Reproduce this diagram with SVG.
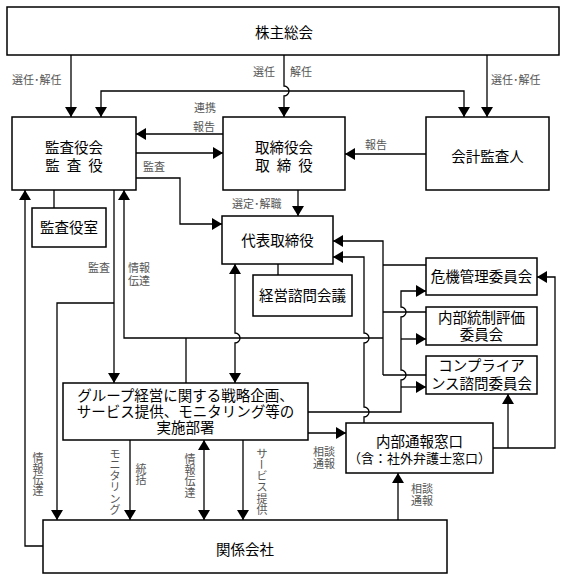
<svg xmlns="http://www.w3.org/2000/svg" width="567" height="579" viewBox="0 0 567 579">
<style>
  .bx{fill:#fff;stroke:#000;stroke-width:1.5}
  .t{font-family:"Noto Sans CJK JP","Noto Sans CJK SC",sans-serif;font-size:14.5px;fill:#000;text-anchor:middle}
  .lb{font-family:"Noto Sans CJK JP","Noto Sans CJK SC",sans-serif;font-size:11px;fill:#555}
  .vl{font-family:"Noto Sans CJK JP","Noto Sans CJK SC",sans-serif;font-size:11px;fill:#555;text-anchor:middle}
  .c path{fill:none;stroke:#000;stroke-width:1.3}
  .a{marker-end:url(#ah)}
  .b{marker-start:url(#ah);marker-end:url(#ah)}
</style>
<defs>
  <marker id="ah" viewBox="0 0 10 12" refX="10" refY="6" markerWidth="10" markerHeight="12" markerUnits="userSpaceOnUse" orient="auto-start-reverse">
    <path d="M0,0 L10,6 L0,12 z" fill="#000"/>
  </marker>
</defs>
<rect width="567" height="579" fill="#fff"/>

<g class="c" id="connectors">
  <path class="a" d="M71,55 V117"/>
  <path class="a" d="M284,55 V86 A5,5 0 0 1 284,96 V117"/>
  <path class="a" d="M487,55 V117"/>
  <path class="b" d="M101,117 V91 H464 V117"/>
  <path class="a" d="M223,134 H136"/>
  <path class="a" d="M136,153 H223"/>
  <path class="a" d="M426,154 H345"/>
  <path class="a" d="M136,178 H180 V224 H222"/>
  <path class="a" d="M298,190 V216"/>
  <path d="M54,190 V208"/>
  <path d="M278,264 V275"/>
  <path class="a" d="M43,546 H25 V190"/>
  <path class="a" d="M114,190 V383"/>
  <path class="a" d="M114,303 H57 V520"/>
  <path class="a" d="M383,375 V241 H333"/>
  <path class="a" d="M383,338 H124 V190"/>
  <path d="M383,265 H426"/>
  <path d="M383,312 H426"/>
  <path d="M383,375 H426"/>
  <path d="M186,383 V338"/>
  <path class="b" d="M235,264 V333 A5,5 0 0 1 235,343 V383"/>
  <path class="a" d="M364,423 V417 A5,5 0 0 0 364,407 V343 A5,5 0 0 0 364,333 V257 H333"/>
  <path class="a" d="M308,412 H401 V380 A5,5 0 0 0 401,370 V317 A5,5 0 0 0 401,307 V291 H426"/>
  <path class="a" d="M401,339 H426"/>
  <path class="a" d="M401,387 H426"/>
  <path class="a" d="M308,433 H346"/>
  <path class="a" d="M398,520 V473"/>
  <path class="a" d="M493,448 H555 V277 H537"/>
  <path class="a" d="M508,448 V394"/>
  <path class="a" d="M130,440 V520"/>
  <path class="b" d="M204,440 V520"/>
  <path class="a" d="M243,440 V520"/>
</g>

<g id="labels">
  <text class="lb" x="12" y="84">選任･解任</text>
  <text class="lb" x="253" y="76">選任</text>
  <text class="lb" x="290" y="76">解任</text>
  <text class="lb" x="491" y="84">選任･解任</text>
  <text class="lb" x="194" y="112">連携</text>
  <text class="lb" x="193" y="131">報告</text>
  <text class="lb" x="365" y="149">報告</text>
  <text class="lb" x="143" y="171">監査</text>
  <text class="lb" x="232" y="208">選定･解職</text>
  <text class="lb" x="88" y="272">監査</text>
  <text class="lb" x="128" y="272">情報</text>
  <text class="lb" x="128" y="285">伝達</text>
  <text class="lb" x="313" y="456">相談</text>
  <text class="lb" x="313" y="468">通報</text>
  <text class="lb" x="411" y="493">相談</text>
  <text class="lb" x="411" y="505">通報</text>
  <text class="vl" x="38 38 38 38" y="461.5 472.5 483.5 494.5">情報伝達</text>
  <text class="vl" x="115 115 115 115 115 115" y="457.7 468.9 480.1 491.3 502.5 513.7">モニタリング</text>
  <text class="vl" x="141 141" y="472.7 483.7">統括</text>
  <text class="vl" x="190 190 190 190" y="462.7 474 485.2 496.5">情報伝達</text>
  <text class="vl" x="262" y="457.7">サ</text>
  <text class="vl" x="262" y="464.5" dominant-baseline="central" transform="rotate(90 262 464.5)">ー</text>
  <text class="vl" x="262 262 262 262" y="480.1 491.3 502.5 513.7">ビス提供</text>
</g>

<g id="n-kabunushi"><rect class="bx" x="7" y="7" width="552" height="48"/><text class="t" x="284" y="38">株主総会</text></g>
<g id="n-kansayakukai"><rect class="bx" x="12" y="117" width="124" height="73"/><text class="t" x="74" y="153">監査役会</text><text class="t" x="52.5 74 95.5" y="170.5">監査役</text></g>
<g id="n-torishimariyakukai"><rect class="bx" x="223" y="117" width="122" height="73"/><text class="t" x="284" y="153">取締役会</text><text class="t" x="262.5 284 305.5" y="170.5">取締役</text></g>
<g id="n-kaikeikansanin"><rect class="bx" x="426" y="117" width="123" height="73"/><text class="t" x="487.5" y="162">会計監査人</text></g>
<g id="n-kansayakushitsu"><rect class="bx" x="32" y="208" width="74" height="39"/><text class="t" x="69" y="233">監査役室</text></g>
<g id="n-daihyo"><rect class="bx" x="222" y="216" width="111" height="48"/><text class="t" x="277.5" y="245.5">代表取締役</text></g>
<g id="n-keieishimon"><rect class="bx" x="253" y="275" width="99" height="41"/><text class="t" x="302.5" y="301">経営諮問会議</text></g>
<g id="n-kiki"><rect class="bx" x="426" y="258" width="111" height="37"/><text class="t" x="481.5" y="282">危機管理委員会</text></g>
<g id="n-naibutosei"><rect class="bx" x="426" y="307" width="111" height="38"/><text class="t" x="481.5" y="322.5">内部統制評価</text><text class="t" x="481.5" y="339.5">委員会</text></g>
<g id="n-compliance"><rect class="bx" x="426" y="356" width="111" height="38"/><text class="t" x="481.5" y="371">コンプライア</text><text class="t" x="481.5" y="389">ンス諮問委員会</text></g>
<g id="n-group"><rect class="bx" x="63" y="383" width="245" height="57"/><text class="t" x="185.5" y="401">グループ経営に関する戦略企画、</text><text class="t" x="185.5" y="417">サービス提供、モニタリング等の</text><text class="t" x="185.5" y="433">実施部署</text></g>
<g id="n-naibutsuho"><rect class="bx" x="346" y="423" width="147" height="50"/><text class="t" x="419.5" y="447">内部通報窓口</text><text class="t" x="419.5" y="463" style="font-size:13px">（含：社外弁護士窓口）</text></g>
<g id="n-kankeigaisha"><rect class="bx" x="43" y="520" width="404" height="53"/><text class="t" x="245" y="555">関係会社</text></g>
</svg>
